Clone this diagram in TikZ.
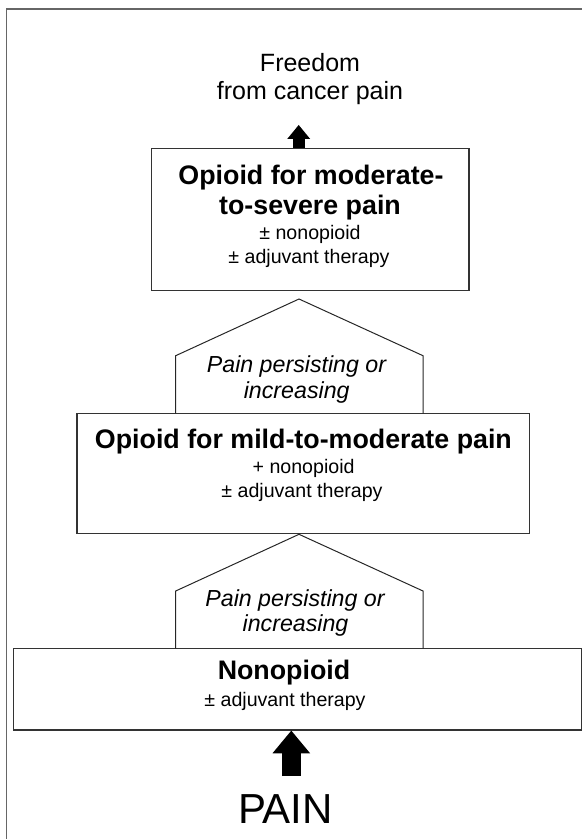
\documentclass[tikz,border=0pt]{standalone}
\usepackage{fontspec}
\setmainfont{Liberation Sans}
\usetikzlibrary{arrows.meta}

\tikzset{
  box/.style={rectangle, draw=black!80, line width=0.65pt, inner sep=0pt},
  roof/.style={draw=black!85, line width=0.5pt, line join=miter},
  frameline/.style={draw=black!60, line width=0.55pt},
  txt/.style={anchor=base, inner sep=0pt},
  goal/.style={txt, font=\fontsize{12.5pt}{14pt}\selectfont},
  head/.style={txt, font=\bfseries\fontsize{13.4pt}{15pt}\selectfont},
  extra/.style={txt, font=\fontsize{9.8pt}{12pt}\selectfont},
  slant/.style={txt, font=\itshape\fontsize{11.6pt}{13pt}\selectfont},
  thinup/.style={line width=6pt, -{Triangle[width=11.5pt,length=7pt,line width=0pt]}},
  fatup/.style={line width=9.7pt, -{Triangle[width=18.8pt,length=11.3pt,line width=0pt]}}
}

\begin{document}
\begin{tikzpicture}[x=0.5pt,y=-0.5pt]
    \useasboundingbox (0,0) rectangle (582,839);

    % Draw the frame (top and left side only)
    \draw[frameline] (582,9) -- (6.3,9) -- (6.3,839);

    % The three boxes
    \node[box, minimum width=158.65pt, minimum height=71.2pt] (strong) at (310.35,219.5) {};
    \node[box, minimum width=226.15pt, minimum height=60pt] (weak) at (303.15,473.3) {};
    \node[box, minimum width=284pt, minimum height=40.85pt] (nonop) at (297.7,689.15) {};

    % The two roofs between the boxes
    \foreach \ytop in {299,534.3}
        \draw[roof] (175.7,\ytop+114.3) -- (175.7,\ytop+56.7) -- (299,\ytop)
            -- (423,\ytop+56.7) -- (423,\ytop+114.3);

    % Goal at the top
    \node[goal] (free1) at (310,71.7) {Freedom};
    \node[goal] (free2) at (310,100) {from cancer pain};
    \coordinate (freetip) at (298.7,125);
    \draw[thinup] (freetip |- strong.north) -- (freetip);

    % Top box
    \node[head] (strong1) at (311,184.8) {Opioid for moderate-};
    \node[head] (strong2) at (310,214.5) {to-severe pain};
    \node[extra] (strong3) at (310,240) {± nonopioid};
    \node[extra] (strong4) at (309,263.5) {± adjuvant therapy};

    % Upper roof
    \node[slant] (persist1) at (296.5,372.7) {Pain persisting or};
    \node[slant] (persist2) at (296.7,398.3) {increasing};

    % Middle box
    \node[head] (weak1) at (303.4,448.5) {Opioid for mild-to-moderate pain};
    \node[extra] (weak2) at (303.6,473.5) {+ nonopioid};
    \node[extra] (weak3) at (302,497.5) {± adjuvant therapy};

    % Lower roof
    \node[slant] (persist3) at (295,606) {Pain persisting or};
    \node[slant] (persist4) at (295.5,631) {increasing};

    % Bottom box
    \node[head] (nonop1) at (284,679) {Nonopioid};
    \node[extra] (nonop2) at (285,706) {± adjuvant therapy};

    % Pain entering at the bottom
    \coordinate (painfoot) at (291.3,776);
    \draw[fatup] (painfoot) -- (painfoot |- nonop.south);
    \node[txt, font=\fontsize{21pt}{24pt}\selectfont] (pain) at (285.5,823) {PAIN};
\end{tikzpicture}
\end{document}
